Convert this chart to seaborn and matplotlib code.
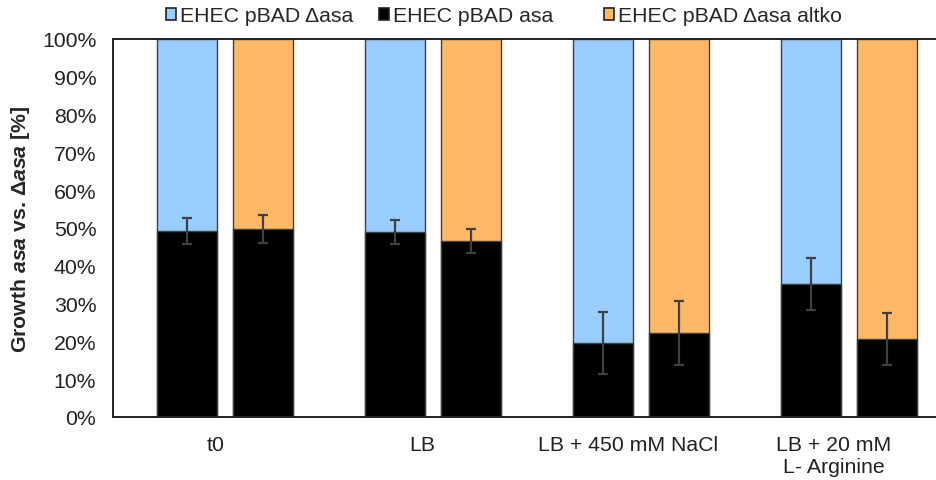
import matplotlib
matplotlib.use("Agg")
import matplotlib.pyplot as plt
from matplotlib.patches import Patch
import numpy as np
import pandas as pd
import seaborn as sns

# data
conditions = ["t0", "LB", "LB + 450 mM NaCl", "LB + 20 mM\nL- Arginine"]
asa_vs_delta = [49.2, 48.9, 19.6, 35.2]        # black part, bar 1 (vs. Δasa)
asa_vs_altko = [49.7, 46.5, 22.2, 20.6]        # black part, bar 2 (vs. Δasa altko)
err_vs_delta = [3.4, 3.2, 8.3, 6.9]
err_vs_altko = [3.6, 3.2, 8.5, 6.8]
pairs = ["EHEC pBAD Δasa", "EHEC pBAD Δasa altko"]
legend_labels = ["EHEC pBAD Δasa", "EHEC pBAD asa", "EHEC pBAD Δasa altko"]

blue = "#99CCFF"
orange = "#FFB966"
edge = "#404040"
ink = "#222222"

sns.set_style("white")
plt.rcParams["font.family"] = ["Liberation Sans", "DejaVu Sans"]
plt.rcParams["mathtext.fontset"] = "custom"
plt.rcParams["mathtext.rm"] = "Liberation Sans:bold"
plt.rcParams["mathtext.it"] = "Liberation Sans:italic:bold"
plt.rcParams["mathtext.bf"] = "Liberation Sans:bold"

df_top = pd.DataFrame({
    "condition": conditions * 2,
    "pair": [pairs[0]] * 4 + [pairs[1]] * 4,
    "value": [100.0] * 8,
})
df_bot = pd.DataFrame({
    "condition": conditions * 2,
    "pair": [pairs[0]] * 4 + [pairs[1]] * 4,
    "value": asa_vs_delta + asa_vs_altko,
})

fig = plt.figure(figsize=(9.37, 4.81), dpi=100)
ax = fig.add_axes([0.1206, 0.131, 0.8794, 0.786])

sns.barplot(data=df_top, x="condition", y="value", hue="pair",
            palette=[blue, orange], saturation=1, width=0.733, gap=0.21,
            errorbar=None, edgecolor=edge, linewidth=1.0, legend=False, ax=ax)
sns.barplot(data=df_bot, x="condition", y="value", hue="pair",
            palette=["black", "black"], saturation=1, width=0.733, gap=0.21,
            errorbar=None, edgecolor=edge, linewidth=1.0, legend=False, ax=ax)

# error bars at the centres of the black bars (hue-major order)
bot_patches = ax.patches[8:]
xs = [p.get_x() + p.get_width() / 2 for p in bot_patches]
ys = [p.get_height() for p in bot_patches]
ax.errorbar(xs, ys, yerr=err_vs_delta + err_vs_altko, fmt="none", ecolor=edge,
            elinewidth=1.6, capsize=3.7, capthick=1.6, zorder=5)

fs = 15.3
ax.set_ylim(0, 100)
ax.set_xlim(-0.538, 3.386)
ax.set_yticks(np.arange(0, 101, 10))
ax.set_yticklabels([f"{v}%" for v in range(0, 101, 10)])
bounds = [-0.538 + i * 0.99 for i in range(5)]
ax.set_xticks(bounds)
ax.set_xticklabels([])
ax.set_xticks([b + 0.495 for b in bounds[:4]], minor=True)
ax.set_xticklabels(conditions, minor=True, linespacing=1.2)
ax.tick_params(axis="x", which="major", direction="out", length=4.5, width=1.2, color=ink)
ax.tick_params(axis="x", which="minor", length=0, pad=13, labelsize=fs, labelcolor=ink)
ax.tick_params(axis="y", direction="out", length=4, width=1.2, color=ink,
               labelsize=fs, labelcolor=ink, pad=8)
ax.set_xlabel("")
ax.set_ylabel(r"Growth $asa$ vs. Δ$asa$ [%]", fontsize=fs, fontweight="bold", labelpad=7)

for side in ["left", "bottom", "top"]:
    ax.spines[side].set_visible(True)
    ax.spines[side].set_color(ink)
    ax.spines[side].set_linewidth(1.4)
ax.spines["right"].set_visible(False)

# legend entries placed individually (uneven spacing in the reference)
colors = [blue, "black", orange]
lefts = [166, 379, 604]
for c, lab, xl in zip(colors, legend_labels, lefts):
    fig.legend([Patch(facecolor=c, edgecolor=ink, linewidth=1.2)], [lab],
               loc="center left", bbox_to_anchor=(xl / 937, 1 - 17 / 481),
               frameon=False, fontsize=fs, handlelength=0.45, handleheight=0.45,
               handletextpad=0.2, borderpad=0, borderaxespad=0)

fig.savefig("out.png", dpi=100)
